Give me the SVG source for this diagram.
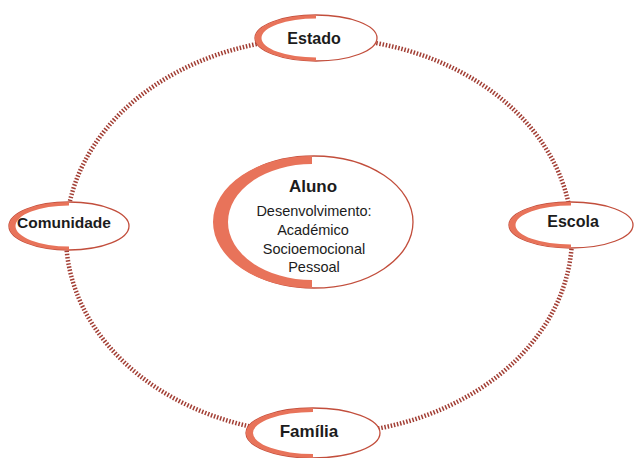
<svg xmlns="http://www.w3.org/2000/svg" width="635" height="458" viewBox="0 0 635 458">
<style>
.dots{fill:none;stroke:#a23e34;stroke-width:4.5;stroke-dasharray:1.5 1.7}
.outline{fill:#fff;stroke:#c24e3c;stroke-width:1.3}
.band{fill:#e8735a}
.lbl{font-family:"Liberation Sans",Arial,sans-serif;font-weight:bold;font-size:16px;fill:#1c1c1c;text-anchor:middle}
.body{font-family:"Liberation Sans",Arial,sans-serif;font-size:14.5px;fill:#1c1c1c;text-anchor:middle}
</style>
<rect width="635" height="458" fill="#fff"/>
<g id="connectors">
<path class="dots" d="M319,38 A253,198 0 0 1 572,236"/>
<path class="dots" d="M572,236 A253,198 0 0 1 319,434"/>
<path class="dots" d="M319,434 A253,198 0 0 1 66,236"/>
<path class="dots" d="M66,236 A253,198 0 0 1 319,38"/>
</g>
<g id="estado">
<ellipse class="outline" cx="316" cy="38" rx="61" ry="23"/>
<path class="band" d="M316,15 A61,23 0 0 0 316,61 L316,57.5 A54.5,19.5 0 0 1 316,18.5 Z"/>
<text class="lbl" x="314" y="44">Estado</text>
</g>
<g id="comunidade">
<ellipse class="outline" cx="69" cy="226" rx="60" ry="24"/>
<path class="band" d="M69,202 A60,24 0 0 0 69,250 L69,246.5 A53.5,20.5 0 0 1 69,205.5 Z"/>
<text class="lbl" x="64" y="228" style="font-size:15.5px">Comunidade</text>
</g>
<g id="escola">
<ellipse class="outline" cx="571" cy="225" rx="62" ry="23"/>
<path class="band" d="M571,202 A62,23 0 0 0 571,248 L571,244.5 A55.5,19.5 0 0 1 571,205.5 Z"/>
<text class="lbl" x="573" y="227">Escola</text>
</g>
<g id="familia">
<ellipse class="outline" cx="313" cy="433" rx="67" ry="25"/>
<path class="band" d="M313,408 A67,25 0 0 0 313,458 L313,454 A60,21 0 0 1 313,412 Z"/>
<text class="lbl" x="309" y="437" style="font-size:17px">Família</text>
</g>
<g id="aluno">
<ellipse class="outline" cx="314" cy="222" rx="99" ry="66"/>
<path class="band" d="M312,156 A99,66 0 0 0 312,288 L312,280 A84,58 0 0 1 312,164 Z"/>
<text class="lbl" x="313" y="192" style="font-size:17px">Aluno</text>
<text class="body" x="314" y="216">Desenvolvimento:</text>
<text class="body" x="313" y="235">Académico</text>
<text class="body" x="314" y="253.5">Socioemocional</text>
<text class="body" x="314" y="272">Pessoal</text>
</g>
</svg>
